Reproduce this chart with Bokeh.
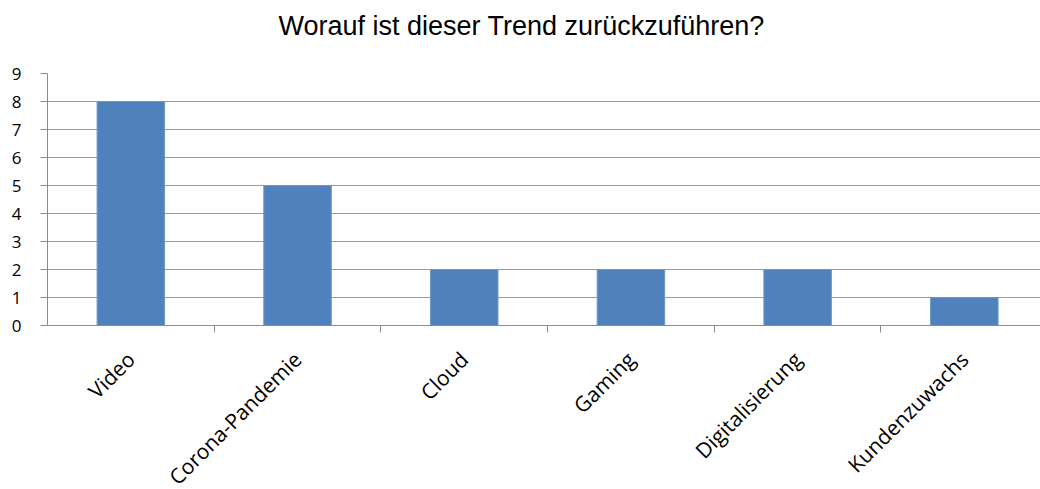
from math import pi
from bokeh.plotting import figure
from bokeh.models import Range1d, FixedTicker, Title
from bokeh.embed import file_html
from bokeh.resources import INLINE

title_text = "Worauf ist dieser Trend zurückzuführen?"
categories = ["Video", "Corona-Pandemie", "Cloud", "Gaming", "Digitalisierung", "Kundenzuwachs"]
counts = [8, 5, 2, 2, 2, 1]
y_ticks = [0, 1, 2, 3, 4, 5, 6, 7, 8, 9]

n = len(categories)
xpos = [i + 0.5 for i in range(n)]

p = figure(
    frame_width=993, frame_height=252,
    min_border_left=47, min_border_right=0, min_border_top=73, min_border_bottom=164,
    x_range=Range1d(0, 5.957), y_range=Range1d(0, 9),
    output_backend="svg", toolbar_location=None, tools="",
)
p.background_fill_color = "white"
p.border_fill_color = "white"
p.outline_line_color = None

p.vbar(x=xpos, top=counts, width=0.405, fill_color="#4F81BD", line_color="#6E98CC", line_width=1)

# title
p.title.text = title_text
p.title.text_font = "Liberation Sans"
p.title.text_font_size = "27px"
p.title.text_font_style = "normal"
p.title.text_color = "black"
p.title.align = "left"
p.title.offset = 231
p.title.standoff = 0
# invisible spacer between title and frame
p.add_layout(Title(text=" ", text_font_size="28px", standoff=0, text_color="white"), "above")

# y axis
ya = p.yaxis[0]
ya.ticker = FixedTicker(ticks=y_ticks)
ya.axis_line_color = "#8C8C8C"
ya.major_tick_line_color = "#8C8C8C"
ya.major_tick_out = 7
ya.major_tick_in = 0
ya.minor_tick_line_color = None
ya.major_label_standoff = 19
ya.major_label_text_font = "Open Sans"
ya.major_label_text_font_size = "17px"
ya.major_label_text_color = "black"

# x axis: labels at category centres, tick marks at category boundaries
xa = p.xaxis[0]
xa.ticker = FixedTicker(ticks=xpos, minor_ticks=[float(i) for i in range(1, n + 1)])
xa.major_label_overrides = {x: c for x, c in zip(xpos, categories)}
xa.major_label_orientation = pi / 4
xa.major_tick_out = 0
xa.major_tick_in = 0
xa.minor_tick_out = 7
xa.minor_tick_in = 0
xa.minor_tick_line_color = "#8C8C8C"
xa.axis_line_color = "#8C8C8C"
xa.major_label_standoff = 23
xa.major_label_text_font = "Open Sans"
xa.major_label_text_font_size = "21px"
xa.major_label_text_color = "black"

p.xgrid.grid_line_color = None
p.ygrid.grid_line_color = "#999999"
p.ygrid.ticker = FixedTicker(ticks=y_ticks)

open("out.html", "w").write(file_html(p, INLINE))
